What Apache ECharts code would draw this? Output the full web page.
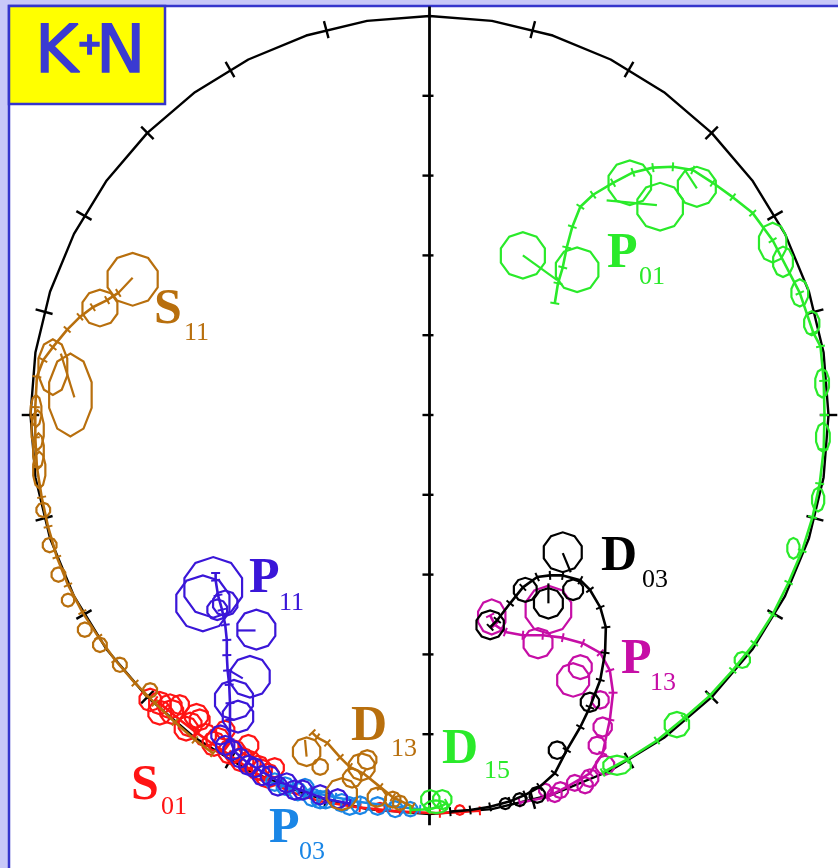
<!DOCTYPE html>
<html>
<head>
<meta charset="utf-8">
<script src="https://cdn.jsdelivr.net/npm/echarts@6/dist/echarts.min.js"></script>
<style>
  html, body { margin: 0; padding: 0; background: #c8c8f8; }
  #chart { width: 838px; height: 868px; }
</style>
</head>
<body>
<div id="chart"></div>
<script>
// Argand diagram of K+N partial-wave amplitudes: Re T (x) against Im T (y).
// Each wave: trajectory points [Re, Im], error circles [Re, Im, rx, ry?],
// and short spokes [Re1, Im1, Re2, Im2] tying circles to the trajectory.

const imTicks = [0.1, 0.2, 0.3, 0.4, 0.5, 0.6, 0.7, 0.8, 0.9];
const circleTickDeg = [15, 30, 45, 60, 75, 90, 105, 120, 135, 150, 165,
                       195, 210, 225, 240, 255, 270, 285, 300, 315, 330, 345];

const pathS01 = [[0.063,0.004],[0.013,0.001],[-0.037,0.003],[-0.087,0.008],[-0.137,0.016],
  [-0.175,0.028],[-0.206,0.044],[-0.231,0.060],[-0.252,0.075],[-0.272,0.088],
  [-0.292,0.102],[-0.313,0.118],[-0.331,0.133],[-0.344,0.143]];
const circS01 = [[-0.338,0.139,0.014],[-0.323,0.128,0.015],[-0.313,0.137,0.012],[-0.300,0.112,0.015],
  [-0.288,0.118,0.013],[-0.281,0.099,0.014],[-0.265,0.093,0.015],[-0.256,0.105,0.012],
  [-0.244,0.078,0.014],[-0.227,0.086,0.013],[-0.225,0.065,0.014],[-0.210,0.055,0.013],
  [-0.194,0.058,0.012],[-0.350,0.143,0.014],[-0.338,0.127,0.015],[-0.325,0.135,0.015],
  [-0.305,0.107,0.015],[-0.292,0.123,0.015],[-0.270,0.088,0.015],[-0.250,0.078,0.015],
  [-0.235,0.068,0.015],[-0.215,0.058,0.015],[-0.203,0.048,0.015],
  [-0.062,0.008,0.006],[0.038,0.005,0.006]];
const spokeS01 = [];

const pathS11 = [[-0.271,0.076],[-0.294,0.093],[-0.319,0.115],[-0.344,0.139],[-0.369,0.164],
  [-0.394,0.193],[-0.415,0.222],[-0.435,0.253],[-0.453,0.287],[-0.467,0.322],
  [-0.478,0.360],[-0.486,0.397],[-0.492,0.435],[-0.494,0.472],[-0.494,0.510],
  [-0.492,0.548],[-0.484,0.569],[-0.472,0.585],[-0.454,0.607],[-0.438,0.623],
  [-0.422,0.635],[-0.404,0.644],[-0.390,0.653]];
const circS11 = [[-0.372,0.670,0.033],[-0.413,0.634,0.023],[-0.472,0.560,0.019,0.035],
  [-0.450,0.525,0.028,0.052],[-0.491,0.481,0.008,0.025],[-0.489,0.431,0.008,0.023],
  [-0.490,0.455,0.007,0.022],[-0.493,0.505,0.007,0.020],
  [-0.484,0.381,0.009],[-0.476,0.337,0.009],[-0.465,0.300,0.009],[-0.453,0.268,0.008],
  [-0.432,0.231,0.009],[-0.413,0.212,0.009],[-0.388,0.187,0.009],[-0.350,0.155,0.009]];
const spokeS11 = [[-0.390,0.653,-0.372,0.672],[-0.462,0.577,-0.445,0.522]];

const pathP03 = [[-0.012,0.006],[-0.049,0.010],[-0.087,0.015],[-0.118,0.021],[-0.150,0.028],
  [-0.175,0.033],[-0.200,0.040]];
const circP03 = [[-0.181,0.035,0.011],[-0.165,0.028,0.011],[-0.147,0.021,0.011],[-0.130,0.018,0.011],
  [-0.110,0.014,0.011],[-0.087,0.011,0.011],[-0.065,0.010,0.011],[-0.194,0.040,0.011],
  [-0.156,0.033,0.011],[-0.137,0.018,0.011],[-0.100,0.010,0.011],[-0.043,0.006,0.010],
  [-0.024,0.006,0.009]];
const spokeP03 = [];

const pathP11 = [[-0.100,0.013],[-0.131,0.019],[-0.162,0.030],[-0.187,0.040],[-0.210,0.053],
  [-0.229,0.065],[-0.244,0.078],[-0.250,0.093],[-0.250,0.118],[-0.250,0.139],
  [-0.251,0.162],[-0.253,0.180],[-0.254,0.199],[-0.254,0.218],[-0.256,0.237],
  [-0.260,0.256],[-0.265,0.274],[-0.268,0.293],[-0.268,0.302]];
const circP11 = [[-0.271,0.284,0.038],[-0.284,0.264,0.035],[-0.217,0.231,0.025],[-0.266,0.256,0.013],
  [-0.256,0.264,0.016],[-0.225,0.172,0.026],[-0.245,0.143,0.025],[-0.240,0.122,0.020],
  [-0.256,0.086,0.012],[-0.237,0.070,0.012],[-0.219,0.058,0.012],[-0.200,0.048,0.012],
  [-0.179,0.039,0.012],[-0.159,0.030,0.012],[-0.137,0.024,0.012],[-0.115,0.019,0.012],
  [-0.262,0.099,0.012],[-0.247,0.080,0.012],[-0.227,0.061,0.012],[-0.210,0.048,0.012],
  [-0.190,0.035,0.012],[-0.169,0.030,0.012]];
const spokeP11 = [[-0.240,0.230,-0.218,0.230],[-0.251,0.180,-0.234,0.170]];

const pathD13 = [[-0.021,0.009],[-0.046,0.021],[-0.062,0.034],[-0.083,0.051],[-0.100,0.059],
  [-0.112,0.071],[-0.128,0.089],[-0.141,0.096],[-0.147,0.102]];
const circD13 = [[-0.154,0.078,0.018],[-0.137,0.059,0.010],[-0.110,0.025,0.020],[-0.085,0.059,0.017],
  [-0.078,0.068,0.012],[-0.066,0.021,0.012],[-0.046,0.018,0.010],[-0.037,0.014,0.009],
  [-0.097,0.045,0.012]];
const spokeD13 = [[-0.156,0.093,-0.154,0.072]];

const pathP13 = [[0.113,0.014],[0.147,0.021],[0.172,0.034],[0.201,0.051],[0.217,0.076],
  [0.226,0.118],[0.230,0.152],[0.226,0.180],[0.214,0.202],[0.192,0.214],
  [0.167,0.221],[0.142,0.224],[0.117,0.224],[0.095,0.228],[0.082,0.237],[0.076,0.249]];
const circP13 = [[0.078,0.247,0.018,0.022],[0.149,0.256,0.030],[0.136,0.214,0.019],[0.180,0.168,0.021],
  [0.189,0.184,0.015],[0.217,0.109,0.012],[0.220,0.061,0.012],[0.201,0.045,0.011],
  [0.182,0.039,0.010],[0.164,0.030,0.010],[0.214,0.143,0.011],[0.210,0.086,0.011],
  [0.195,0.036,0.010],[0.157,0.024,0.009],[0.145,0.030,0.008]];
const spokeP13 = [];

const pathD03 = [[0.026,0.003],[0.051,0.005],[0.076,0.009],[0.101,0.016],[0.120,0.024],
  [0.138,0.034],[0.157,0.051],[0.172,0.080],[0.189,0.109],[0.201,0.134],
  [0.214,0.168],[0.220,0.202],[0.221,0.234],[0.214,0.259],[0.201,0.281],
  [0.189,0.293],[0.167,0.299],[0.151,0.299],[0.135,0.297],[0.117,0.284],
  [0.101,0.264],[0.085,0.243],[0.076,0.234]];
const circD03 = [[0.167,0.328,0.025],[0.149,0.264,0.019],[0.076,0.237,0.018],[0.120,0.281,0.015],
  [0.180,0.281,0.013],[0.201,0.140,0.012],[0.160,0.080,0.011],[0.135,0.024,0.010],
  [0.113,0.018,0.008],[0.095,0.013,0.007]];
const spokeD03 = [[0.167,0.327,0.177,0.303],[0.149,0.289,0.149,0.264]];

const pathD15 = [[-0.024,0.005],[0.000,0.006],[0.015,0.010],[0.022,0.014]];
const circD15 = [[0.001,0.018,0.012],[0.016,0.018,0.012],[0.008,0.009,0.015,0.008]];
const spokeD15 = [];

const pathP01 = [[0.217,0.052],[0.247,0.068],[0.285,0.092],[0.319,0.120],[0.351,0.148],
  [0.380,0.180],[0.407,0.214],[0.430,0.250],[0.450,0.290],[0.467,0.330],
  [0.480,0.372],[0.489,0.414],[0.494,0.457],[0.495,0.500],[0.494,0.543],
  [0.490,0.586],[0.481,0.603],[0.464,0.653],[0.430,0.719],[0.405,0.753],
  [0.380,0.773],[0.355,0.791],[0.330,0.807],[0.305,0.811],[0.280,0.810],
  [0.255,0.804],[0.230,0.791],[0.205,0.776],[0.189,0.761],[0.179,0.736],
  [0.172,0.710],[0.167,0.685],[0.161,0.665],[0.157,0.640]];
const circP01 = [[0.117,0.700,0.029],[0.185,0.682,0.028],[0.251,0.791,0.028],[0.289,0.761,0.030],
  [0.335,0.786,0.025],[0.430,0.716,0.018,0.025],[0.443,0.692,0.013,0.019],
  [0.464,0.653,0.011,0.017],[0.479,0.615,0.010,0.015],[0.492,0.540,0.009,0.018],
  [0.493,0.472,0.009,0.018],[0.487,0.394,0.008,0.015],[0.456,0.333,0.008,0.013],
  [0.392,0.193,0.010],[0.310,0.112,0.016],[0.235,0.061,0.018,0.012]];
const spokeP01 = [[0.117,0.700,0.160,0.669],[0.222,0.769,0.285,0.763],[0.320,0.807,0.335,0.784]];

const GREEN = '#2aea2a', BROWN = '#b86f0d', RED = '#ff1414', SKY = '#1a86e6',
      VIOLET = '#3a16d8', MAGENTA = '#c60ea6', BLACK = '#000000';

const waves = [
  { path: pathS01, circles: circS01, spokes: spokeS01, color: RED },
  { path: pathS11, circles: circS11, spokes: spokeS11, color: BROWN },
  { path: pathP03, circles: circP03, spokes: spokeP03, color: SKY },
  { path: pathP11, circles: circP11, spokes: spokeP11, color: VIOLET },
  { path: pathD13, circles: circD13, spokes: spokeD13, color: BROWN },
  { path: pathP13, circles: circP13, spokes: spokeP13, color: MAGENTA },
  { path: pathD03, circles: circD03, spokes: spokeD03, color: BLACK },
  { path: pathD15, circles: circD15, spokes: spokeD15, color: GREEN },
  { path: pathP01, circles: circP01, spokes: spokeP01, color: GREEN }
];

// Unitarity circle |T - i/2| = 1/2, drawn as a fine polygon
const unitCircle = [];
for (let k = 0; k <= 40; k++) {
  const t = k / 40 * Math.PI * 2;
  unitCircle.push([0.5 * Math.sin(t), 0.5 + 0.5 * Math.cos(t)]);
}

const series = [];

series.push({
  type: 'line', data: unitCircle, symbol: 'none', silent: true, clip: false,
  lineStyle: { color: '#000', width: 2.4 }, z: 1
});
series.push({
  type: 'line', data: [[0, -0.014], [0, 1.012]], symbol: 'none', silent: true, clip: false,
  lineStyle: { color: '#000', width: 2.8 }, z: 1
});
// Im T ticks on the vertical axis
series.push({
  type: 'custom', clip: false, silent: true, z: 1,
  data: imTicks.map(v => [0, v]),
  renderItem: (params, api) => {
    const v = api.value(1);
    const a = api.coord([-0.0088, v]), b = api.coord([0.005, v]);
    return { type: 'line', shape: { x1: a[0], y1: a[1], x2: b[0], y2: b[1] },
             style: { stroke: '#000', lineWidth: 2.4 } };
  }
});
// ticks across the circle every 15 degrees
series.push({
  type: 'custom', clip: false, silent: true, z: 1,
  data: circleTickDeg.map(d => [0, 0.5, d]),
  renderItem: (params, api) => {
    const t = api.value(2) * Math.PI / 180;
    const ri = 0.489, ro = 0.511;
    const a = api.coord([ri * Math.sin(t), 0.5 + ri * Math.cos(t)]);
    const b = api.coord([ro * Math.sin(t), 0.5 + ro * Math.cos(t)]);
    return { type: 'line', shape: { x1: a[0], y1: a[1], x2: b[0], y2: b[1] },
             style: { stroke: '#000', lineWidth: 2.4 } };
  }
});

let z = 2;
waves.forEach(w => {
  const col = w.color;
  series.push({
    type: 'line', data: w.path, symbol: 'none', silent: true, clip: false, z: z,
    lineStyle: { color: col, width: 2.6 }
  });
  // small error bars across the trajectory at each point
  const n = w.path.length;
  const tickData = w.path.map((p, i) => {
    const a = w.path[Math.max(0, i - 1)], b = w.path[Math.min(n - 1, i + 1)];
    return [p[0], p[1], a[0], a[1], b[0], b[1]];
  });
  series.push({
    type: 'custom', clip: false, silent: true, z: z, data: tickData,
    renderItem: (params, api) => {
      const p = api.coord([api.value(0), api.value(1)]);
      const a = api.coord([api.value(2), api.value(3)]);
      const b = api.coord([api.value(4), api.value(5)]);
      let dx = b[0] - a[0], dy = b[1] - a[1];
      const L = Math.hypot(dx, dy) || 1;
      const nx = -dy / L * 4.5, ny = dx / L * 4.5;
      return { type: 'line', shape: { x1: p[0] - nx, y1: p[1] - ny, x2: p[0] + nx, y2: p[1] + ny },
               style: { stroke: col, lineWidth: 2 } };
    }
  });
  // error circles drawn as polygons
  series.push({
    type: 'custom', clip: false, silent: true, z: z,
    data: w.circles.map(c => [c[0], c[1], c[2], c.length > 3 ? c[3] : c[2]]),
    renderItem: (params, api) => {
      const c = api.coord([api.value(0), api.value(1)]);
      const s = api.size([api.value(2), api.value(3)]);
      const pts = [];
      for (let k = 0; k < 10; k++) {
        const t = (k + 0.5) / 10 * Math.PI * 2;
        pts.push([c[0] + s[0] * Math.cos(t), c[1] + s[1] * Math.sin(t)]);
      }
      return { type: 'polygon', shape: { points: pts },
               style: { fill: 'none', stroke: col, lineWidth: 2.2 } };
    }
  });
  if (w.spokes.length) {
    series.push({
      type: 'custom', clip: false, silent: true, z: z, data: w.spokes,
      renderItem: (params, api) => {
        const a = api.coord([api.value(0), api.value(1)]);
        const b = api.coord([api.value(2), api.value(3)]);
        return { type: 'line', shape: { x1: a[0], y1: a[1], x2: b[0], y2: b[1] },
                 style: { stroke: col, lineWidth: 2.2 } };
      }
    });
  }
  z++;
});

// wave labels: main letter and subscript
const SERIF = "'Liberation Serif', 'Times New Roman', serif";
const labels = [
  { m: 'P', s: '01', c: GREEN,   x: 607, y: 254, sx: 639, sy: 277 },
  { m: 'S', s: '11', c: BROWN,   x: 154, y: 310, sx: 184, sy: 333 },
  { m: 'P', s: '11', c: VIOLET,  x: 249, y: 579, sx: 279, sy: 603 },
  { m: 'D', s: '03', c: BLACK,   x: 601, y: 557, sx: 642, sy: 580 },
  { m: 'P', s: '13', c: MAGENTA, x: 621, y: 660, sx: 650, sy: 683 },
  { m: 'D', s: '13', c: BROWN,   x: 351, y: 727, sx: 391, sy: 749 },
  { m: 'D', s: '15', c: GREEN,   x: 442, y: 750, sx: 484, sy: 771 },
  { m: 'S', s: '01', c: RED,     x: 131, y: 786, sx: 161, sy: 807 },
  { m: 'P', s: '03', c: SKY,     x: 269, y: 829, sx: 299, sy: 852 }
];
const graphics = [
  { type: 'rect', shape: { x: 9, y: 6, width: 840, height: 870 }, z: -10,
    style: { fill: '#ffffff', stroke: '#3535cc', lineWidth: 2.5 } },
  { type: 'rect', shape: { x: 9, y: 6, width: 156, height: 98 }, z: 100,
    style: { fill: '#ffff00', stroke: '#3535cc', lineWidth: 2.5 } },
  { type: 'text', x: 35, y: 55, z: 101,
    style: { text: 'K', fill: '#3a3ad2', stroke: '#3a3ad2', lineWidth: 1.5,
             font: "normal 66px 'DejaVu Sans', sans-serif", verticalAlign: 'middle' } },
  { type: 'text', x: 77, y: 46, z: 101,
    style: { text: '+', fill: '#3a3ad2', stroke: '#3a3ad2', lineWidth: 1.5,
             font: "bold 30px 'DejaVu Sans', sans-serif", verticalAlign: 'middle' } },
  { type: 'text', x: 96, y: 55, z: 101,
    style: { text: 'N', fill: '#3a3ad2', stroke: '#3a3ad2', lineWidth: 1.5,
             font: "normal 66px 'DejaVu Sans', sans-serif", verticalAlign: 'middle' } }
];
labels.forEach(l => {
  graphics.push({ type: 'text', x: l.x, y: l.y, z: 50,
    style: { text: l.m, fill: l.c, font: 'bold 50px ' + SERIF, verticalAlign: 'middle' } });
  graphics.push({ type: 'text', x: l.sx, y: l.sy, z: 50,
    style: { text: l.s, fill: l.c, font: 'normal 26px ' + SERIF, verticalAlign: 'middle' } });
});

const chart = echarts.init(document.getElementById('chart'), null, { renderer: 'canvas' });
chart.setOption({
  backgroundColor: '#c8c8f8',
  animation: false,
  grid: { left: 30.5, top: 16, width: 798, height: 798 },
  xAxis: { type: 'value', min: -0.5, max: 0.5, show: false },
  yAxis: { type: 'value', min: 0, max: 1, show: false },
  series: series,
  graphic: graphics
});
</script>
</body>
</html>
